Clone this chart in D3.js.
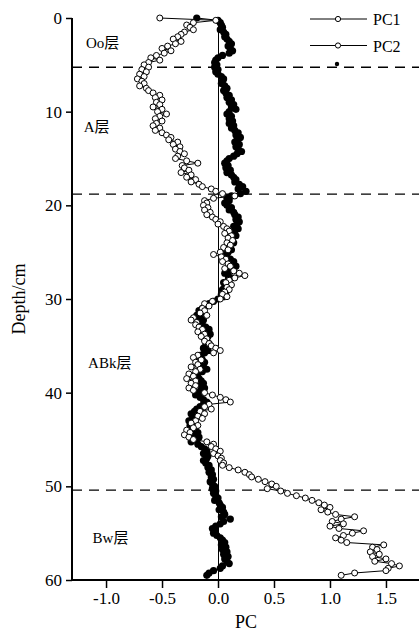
<!DOCTYPE html>
<html><head><meta charset="utf-8">
<script src="https://cdn.jsdelivr.net/npm/d3@7/dist/d3.min.js"></script>
<style>html,body{margin:0;padding:0;background:#fff;}svg{display:block;}</style>
</head><body>
<svg id="c" width="419" height="631"></svg>
<script>
// PC1 values at 0.25 cm depth steps (0 .. 59.5 cm)
const pc1 = [
-0.52,-0.02,-0.22,-0.28, -0.25,-0.22,-0.30,-0.33, -0.36,-0.40,-0.33,-0.38, -0.45,-0.50,-0.42,-0.48,
-0.55,-0.60,-0.52,-0.62, -0.66,-0.62,-0.68,-0.64, -0.70,-0.66,-0.72,-0.68, -0.66,-0.70,-0.64,-0.62,
-0.58,-0.52,-0.56,-0.50, -0.55,-0.52,-0.58,-0.50, -0.54,-0.46,-0.52,-0.56, -0.50,-0.55,-0.58,-0.52,
-0.56,-0.50,-0.46,-0.42, -0.44,-0.36,-0.40,-0.34, -0.38,-0.34,-0.30,-0.36, -0.38,-0.28,-0.18,-0.32,
-0.30,-0.26,-0.33,-0.24, -0.28,-0.20,-0.24,-0.17, -0.14,-0.06,-0.02,0.04, 0.15,-0.04,-0.12,-0.10,
-0.13,-0.09,-0.12,-0.07, -0.10,-0.05,-0.02,0.02, 0.00,0.05,0.08,0.10, 0.06,0.12,0.09,0.13,
0.08,0.11,0.05,0.09, 0.02,-0.04,0.03,0.07, 0.04,0.09,0.11,0.06, 0.14,0.19,0.24,0.15,
0.10,0.07,0.12,0.08, 0.10,0.06,0.04,0.08, 0.02,-0.05,-0.12,-0.08, -0.14,-0.12,-0.16,-0.10,
-0.22,-0.24,-0.19,-0.20, -0.17,-0.14,-0.18,-0.12, -0.15,-0.10,-0.12,-0.08, -0.06,-0.02,0.02,-0.04,
-0.18,-0.22,-0.15,-0.20, -0.18,-0.24,-0.16,-0.20, -0.26,-0.22,-0.28,-0.20, -0.24,-0.20,-0.26,-0.22,
-0.12,-0.05,0.02,0.07, 0.11,-0.08,-0.12,-0.06, -0.16,-0.12,-0.18,-0.14, -0.20,-0.24,-0.18,-0.22,
-0.28,-0.25,-0.30,-0.26, -0.22,-0.10,-0.04,-0.06, -0.02,0.02,-0.04,0.00, 0.03,0.02,0.05,0.04,
0.10,0.18,0.24,0.28, 0.30,0.36,0.42,0.48, 0.52,0.44,0.56,0.62, 0.70,0.78,0.84,0.90,
0.95,1.00,0.92,0.98, 1.05,1.22,1.10,1.02, 1.12,1.00,1.08,1.30, 1.20,1.12,1.05,1.10,
1.15,1.48,1.38,1.42, 1.36,1.44,1.38,1.50, 1.40,1.55,1.62,1.52, 1.50,1.22,1.10
];
// PC2 values at the same depths
const pc2 = [
-0.19,0.00,0.02,0.03, 0.04,0.02,0.05,0.07, 0.06,0.08,0.10,0.12, 0.09,0.11,0.13,0.10,
0.04,0.00,-0.02,-0.03, -0.01,-0.03,0.00,-0.02, 0.00,0.03,0.05,0.04, 0.03,0.06,0.08,0.05,
0.07,0.10,0.08,0.12, 0.10,0.14,0.12,0.16, 0.10,0.08,0.12,0.10, 0.13,0.10,0.14,0.12,
0.15,0.18,0.16,0.20, 0.17,0.15,0.19,0.16, 0.18,0.21,0.17,0.14, 0.10,0.08,0.06,0.09,
0.07,0.11,0.08,0.12, 0.14,0.16,0.15,0.19, 0.22,0.18,0.25,0.20, 0.12,0.08,0.10,0.06,
0.08,0.12,0.10,0.14, 0.15,0.18,0.16,0.19, 0.17,0.14,0.18,0.15, 0.12,0.16,0.13,0.10,
0.14,0.11,0.08,0.12, 0.09,0.05,0.08,0.11, 0.14,0.12,0.16,0.13, 0.10,0.06,0.09,0.12,
0.09,0.05,0.08,0.06, 0.04,0.07,0.03,0.05, 0.00,-0.04,-0.08,-0.11, -0.14,-0.17,-0.15,-0.19,
-0.16,-0.13,-0.17,-0.14, -0.11,-0.08,-0.10,-0.07, -0.09,-0.12,-0.10,-0.08, -0.11,-0.13,-0.09,-0.12,
-0.15,-0.18,-0.14,-0.12, -0.16,-0.13,-0.10,-0.14, -0.18,-0.21,-0.17,-0.15, -0.13,-0.16,-0.12,-0.15,
-0.18,-0.20,-0.16,-0.13, -0.10,-0.13,-0.16,-0.19, -0.21,-0.24,-0.20,-0.23, -0.26,-0.22,-0.25,-0.20,
-0.22,-0.18,-0.21,-0.17, -0.20,-0.24,-0.18,-0.15, -0.12,-0.10,-0.13,-0.09, -0.10,-0.13,-0.11,-0.08,
-0.09,-0.06,-0.08,-0.05, -0.06,-0.04,-0.07,-0.05, -0.03,-0.05,-0.02,-0.04, -0.02,0.00,-0.03,0.01,
0.02,0.04,0.01,0.05, 0.06,0.03,0.11,0.05, 0.02,-0.02,-0.05,-0.03, -0.04,-0.01,0.02,0.04,
0.06,0.03,0.07,0.04, 0.08,0.05,0.09,0.06, 0.08,0.10,0.04,0.02, -0.04,-0.08,-0.10
];
const depths = pc1.map((_, i) => i * 0.25);
const xTicks = [-1.0, -0.5, 0.0, 0.5, 1.0, 1.5];
const yTicks = [0, 10, 20, 30, 40, 50, 60];
const boundaries = [5.25, 18.8, 50.4];
const layers = [
  {name: "Oo层", depth: 3.2, x: -1.18},
  {name: "A层", depth: 12.2, x: -1.20},
  {name: "ABk层", depth: 37.4, x: -1.16},
  {name: "Bw层", depth: 56.1, x: -1.12}
];
const seriesNames = ["PC1", "PC2"];

const svg = d3.select("#c");
const serif = "'Liberation Serif','Times New Roman','DejaVu Serif',serif";
const cjk = "'Liberation Serif','Noto Sans CJK SC',serif";

const x = d3.scaleLinear().domain([-1.304, 1.795]).range([72, 419]);
const y = d3.scaleLinear().domain([0, 60]).range([18, 580]);

// dashed horizon boundaries
svg.selectAll("line.bd").data(boundaries).enter().append("line")
  .attr("x1", 72).attr("x2", 419)
  .attr("y1", d => y(d)).attr("y2", d => y(d))
  .attr("stroke", "#000").attr("stroke-width", 1.4)
  .attr("stroke-dasharray", "10,7");

// zero line
const x0 = Math.round(x(0)) + 0.5;
svg.append("line").attr("x1", x0).attr("x2", x0).attr("y1", y(0)).attr("y2", y(60))
  .attr("stroke", "#000").attr("stroke-width", 1);

// axes
const yAxis = d3.axisLeft(y).tickValues(yTicks).tickSize(6).tickPadding(4).tickFormat(d3.format("d"));
const gy = svg.append("g").attr("transform", "translate(72,0)").call(yAxis);
gy.attr("font-family", serif);
gy.select(".domain").attr("stroke-width", 2).attr("d", `M0,${y(0)}V${y(60)}`);
gy.selectAll(".tick line").attr("stroke-width", 1.5);
gy.selectAll("text").attr("font-family", serif).attr("font-size", 17).attr("fill", "#000");

const xAxis = d3.axisBottom(x).tickValues(xTicks).tickSize(8).tickPadding(4).tickFormat(d3.format(".1f"));
const gx = svg.append("g").attr("transform", `translate(0,${y(60)})`).call(xAxis);
gx.attr("font-family", serif);
gx.select(".domain").attr("stroke-width", 2).attr("d", `M72,0H419`);
gx.selectAll(".tick line").attr("stroke-width", 1.5);
gx.selectAll("text").attr("font-family", serif).attr("font-size", 17).attr("fill", "#000")
  .text(d => d3.format(".1f")(d).replace("−", "-"));

// series
const line1 = d3.line().x(d => x(d[1])).y(d => y(d[0]));
const d1 = depths.map((d, i) => [d, pc1[i]]);
const d2 = depths.map((d, i) => [d, pc2[i]]);

svg.append("path").attr("d", line1(d2)).attr("fill", "none").attr("stroke", "#000").attr("stroke-width", 1);
svg.selectAll("circle.p2").data(d2).enter().append("circle")
  .attr("cx", d => x(d[1])).attr("cy", d => y(d[0])).attr("r", 3.6).attr("fill", "#000");

svg.append("path").attr("d", line1(d1)).attr("fill", "none").attr("stroke", "#000").attr("stroke-width", 1);
svg.selectAll("circle.p1").data(d1).enter().append("circle")
  .attr("cx", d => x(d[1])).attr("cy", d => y(d[0])).attr("r", 3)
  .attr("fill", "#fff").attr("stroke", "#000").attr("stroke-width", 1);

// layer labels
svg.selectAll("text.ly").data(layers).enter().append("text")
  .attr("x", d => x(d.x)).attr("y", d => y(d.depth))
  .attr("font-family", cjk).attr("font-size", 15).attr("fill", "#000")
  .text(d => d.name);

// axis titles
svg.append("text").attr("transform", `translate(25,${y(30)}) rotate(-90)`)
  .attr("text-anchor", "middle").attr("font-family", serif).attr("font-size", 18).text("Depth/cm");
svg.append("text").attr("x", 246).attr("y", 628).attr("text-anchor", "middle")
  .attr("font-family", serif).attr("font-size", 18).text("PC");

// legend
const lg = svg.append("g");
seriesNames.forEach((n, i) => {
  const ly = 19 + i * 26.5;
  lg.append("line").attr("x1", 310).attr("x2", 367).attr("y1", ly).attr("y2", ly)
    .attr("stroke", "#000").attr("stroke-width", 1);
  lg.append("circle").attr("cx", 338).attr("cy", ly).attr("r", 2.6)
    .attr("fill", "#fff").attr("stroke", "#000").attr("stroke-width", 1);
  lg.append("text").attr("x", 373).attr("y", ly + 6).attr("font-family", serif)
    .attr("font-size", 16).text(n);
});
lg.append("circle").attr("cx", 337).attr("cy", 64).attr("r", 2.2).attr("fill", "#000");
</script>
</body></html>
